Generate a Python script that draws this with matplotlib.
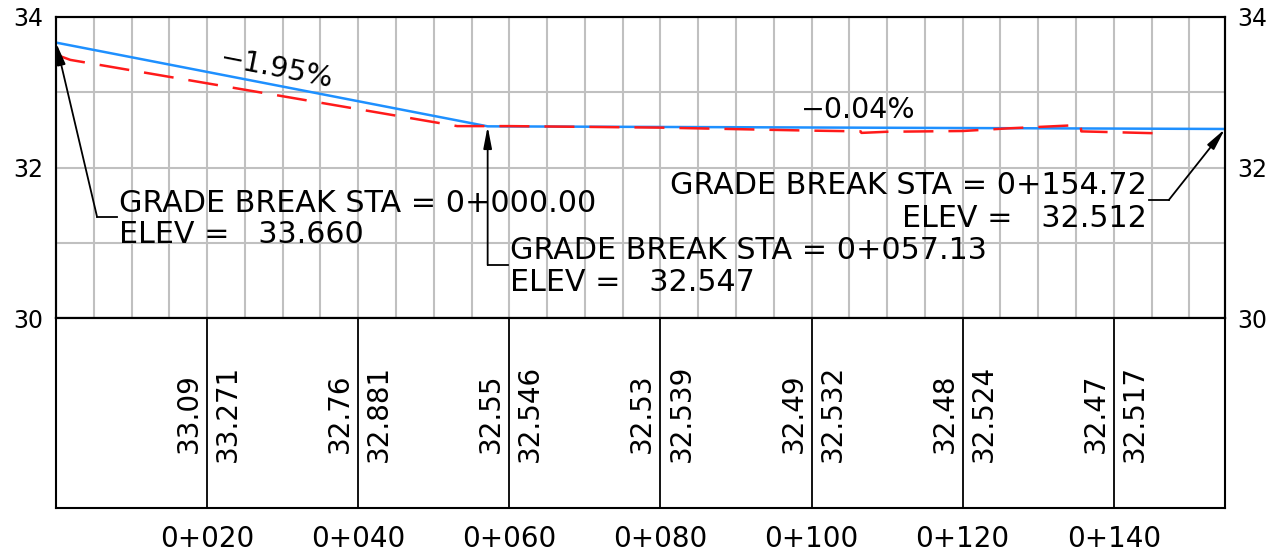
import numpy as np
import matplotlib
matplotlib.use("Agg")
import matplotlib.pyplot as plt
from matplotlib import transforms

plt.rcParams['font.family'] = ['DejaVu Sans']

# ---------------- data ----------------
# design profile (grade breaks / PVIs)
pvi_sta = [0.0, 57.13, 154.72]
pvi_elev = [33.660, 32.547, 32.512]
grade_labels = ["\u22121.95%", "\u22120.04%"]

# existing ground profile (dashed red)
ground_sta = [0.0, 1.9, 53.1, 60.0, 80.0, 100.0, 106.5, 106.6, 110.0, 120.0,
              126.0, 135.6, 135.7, 145.6, 145.6]
ground_elev = [33.50, 33.43, 32.55, 32.55, 32.53, 32.49, 32.48, 32.46, 32.475, 32.485,
               32.52, 32.565, 32.48, 32.455, 32.51]

# data band
stations = [20, 40, 60, 80, 100, 120, 140]
existing_vals = [33.09, 32.76, 32.55, 32.53, 32.49, 32.48, 32.47]
design_vals = [33.271, 32.881, 32.546, 32.539, 32.532, 32.524, 32.517]
station_labels = ["0+020", "0+040", "0+060", "0+080", "0+100", "0+120", "0+140"]

y_major = [30, 32, 34]
y_minor = [31, 33]

# ---------------- figure ----------------
W, H = 1273, 556
fig = plt.figure(figsize=(W / 100, H / 100), dpi=100)

L, R = 56, 1225
T_top, B_top, B_band = 17, 318, 508
ax = fig.add_axes([L / W, 1 - B_top / H, (R - L) / W, (B_top - T_top) / H])
axb = fig.add_axes([L / W, 1 - B_band / H, (R - L) / W, (B_band - B_top) / H])

xmax = pvi_sta[-1]
ax.set_xlim(0, xmax)
ax.set_ylim(30, 34)
axb.set_xlim(0, xmax)
axb.set_ylim(0, 1)

grid_col = '#c0c0c0'
ax.set_xticks(np.arange(0, 155, 5))
ax.set_yticks(y_major)
ax.set_yticks(y_minor, minor=True)
ax.grid(True, which='both', color=grid_col, lw=1.5, zorder=0)
ax.set_axisbelow(True)
ax.tick_params(axis='x', length=0, labelbottom=False)
ax.tick_params(axis='y', which='both', length=0, labelsize=17, pad=9)
ax.set_yticklabels([str(v) for v in y_major])

ax2 = ax.twinx()
ax2.set_ylim(30, 34)
ax2.set_yticks(y_major)
ax2.set_yticklabels([str(v) for v in y_major])
ax2.tick_params(axis='y', length=0, labelsize=17, pad=9)
for a in (ax, ax2, axb):
    for s in a.spines.values():
        s.set_linewidth(1.5)
        s.set_color('black')

# profiles
ax.plot(pvi_sta, pvi_elev, color='#1e90ff', lw=1.8, zorder=3)
gl, = ax.plot(ground_sta, ground_elev, color='#ff1a1a', lw=1.8, zorder=4)
gl.set_dashes([12, 6])

# grade labels
ax.text(29.0, 33.205, grade_labels[0], fontsize=20.5, rotation=-11,
        rotation_mode='anchor', ha='center', va='baseline', zorder=5)
ax.text(106.2, 32.658, grade_labels[1], fontsize=20.5, ha='center', va='baseline', zorder=5)

fs = 21.7
arrowprops = dict(arrowstyle='-|>,head_length=1.3,head_width=0.25', color='black',
                  lw=1.3, shrinkA=0, shrinkB=0, mutation_scale=10)

# annotation 1 (start)
ax.plot([8.08, 5.43], [31.346, 31.346], color='black', lw=1.3, zorder=5)
ax.annotate('', xy=(pvi_sta[0], pvi_elev[0]), xytext=(5.43, 31.346),
            arrowprops=arrowprops, zorder=6)
ax.text(8.34, 31.409, f"GRADE BREAK STA = 0+{pvi_sta[0]:06.2f}", fontsize=fs,
        ha='left', va='baseline', zorder=5)
ax.text(8.34, 30.997, f"ELEV =   {pvi_elev[0]:.3f}", fontsize=fs,
        ha='left', va='baseline', zorder=5)

# annotation 2 (middle)
ax.plot([59.87, pvi_sta[1]], [30.704, 30.704], color='black', lw=1.3, zorder=5)
ax.annotate('', xy=(pvi_sta[1], pvi_elev[1]), xytext=(pvi_sta[1], 30.704),
            arrowprops=arrowprops, zorder=6)
ax.text(60.13, 30.784, f"GRADE BREAK STA = 0+{pvi_sta[1]:06.2f}", fontsize=fs,
        ha='left', va='baseline', zorder=5)
ax.text(60.13, 30.363, f"ELEV =   {pvi_elev[1]:.3f}", fontsize=fs,
        ha='left', va='baseline', zorder=5)

# annotation 3 (end)
ax.plot([144.64, 147.28], [31.568, 31.568], color='black', lw=1.3, zorder=5)
ax.annotate('', xy=(pvi_sta[2], pvi_elev[2]), xytext=(147.28, 31.568),
            arrowprops=arrowprops, zorder=6)
ax.text(144.37, 31.648, f"GRADE BREAK STA = 0+{pvi_sta[2]:06.2f}", fontsize=fs,
        ha='right', va='baseline', zorder=5)
ax.text(144.37, 31.213, f"ELEV =   {pvi_elev[2]:.3f}", fontsize=fs,
        ha='right', va='baseline', zorder=5)

# ---------------- data band ----------------
axb.vlines(stations, 0, 1, color='black', lw=1.3)
axb.set_yticks([])
axb.set_xticks(stations)
axb.set_xticklabels(station_labels)
axb.tick_params(axis='x', length=0, labelsize=20, pad=12)

off_l = transforms.offset_copy(axb.transData, fig=fig, x=-3, y=0, units='points')
off_r = transforms.offset_copy(axb.transData, fig=fig, x=5, y=0, units='points')
for s, ev, dv in zip(stations, existing_vals, design_vals):
    axb.text(s, 0.5, f"{ev:.2f}", rotation=90, fontsize=20, ha='right', va='center',
             transform=off_l)
    axb.text(s, 0.5, f"{dv:.3f}", rotation=90, fontsize=20, ha='left', va='center',
             transform=off_r)

fig.savefig('out.png', dpi=100)
